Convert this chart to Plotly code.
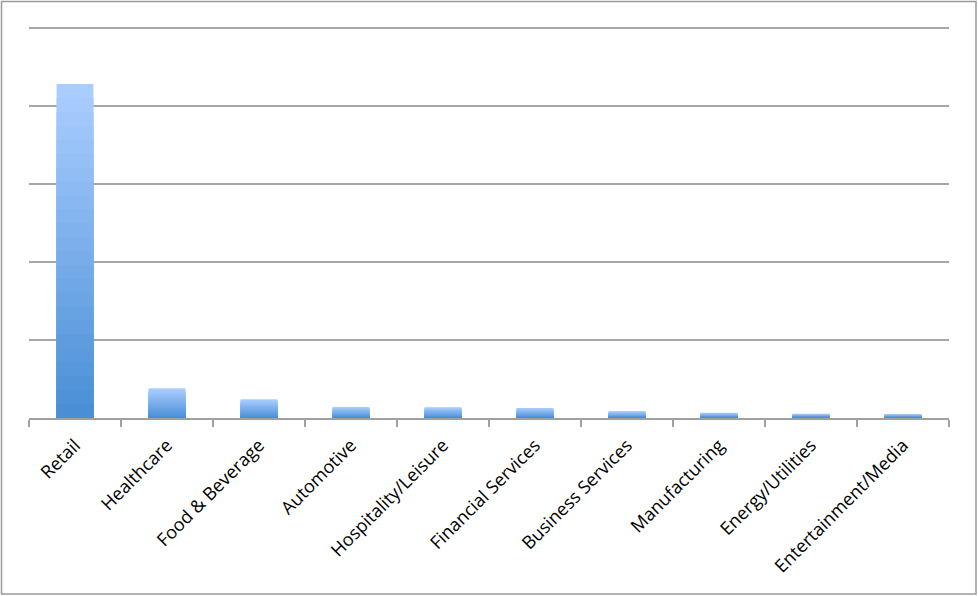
import plotly.graph_objects as go

categories = ["Retail", "Healthcare", "Food & Beverage", "Automotive", "Hospitality/Leisure",
              "Financial Services", "Business Services", "Manufacturing", "Energy/Utilities",
              "Entertainment/Media"]
values = [428, 38, 24, 14, 13.7, 12.8, 8.6, 6.8, 5.5, 5.1]
y_ticks = [0, 100, 200, 300, 400, 500]

light = (170, 205, 255)
dark = (74, 143, 214)
N = 24

fig = go.Figure()
for k in range(N):
    t = k / (N - 1)
    c = tuple(round(light[i] + (dark[i] - light[i]) * t) for i in range(3))
    frac = (N - k) / N
    fig.add_trace(go.Bar(
        x=categories,
        y=[v * frac for v in values],
        marker=dict(color="rgb(%d,%d,%d)" % c, line=dict(width=0)),
        hoverinfo="skip" if k else None,
        showlegend=False,
    ))

fig.update_layout(
    width=978, height=596,
    barmode="overlay",
    bargap=0.6,
    paper_bgcolor="white",
    plot_bgcolor="white",
    margin=dict(l=29, r=29, t=24, b=178),
    font=dict(family="Open Sans, Lato, sans-serif", size=18, color="black"),
    xaxis=dict(
        tickangle=-45,
        ticks="outside", tickson="boundaries", ticklen=7, tickcolor="#a0a0a0", tickwidth=1.5,
        ticklabelstandoff=8,
        showline=True, linecolor="#a0a0a0", linewidth=1.5,
        showgrid=False,
        tickfont=dict(size=18),
    ),
    yaxis=dict(
        range=[0, 505], tickvals=y_ticks, showticklabels=False,
        showgrid=True, gridcolor="#a6a6a6", gridwidth=1.5,
        zeroline=False, showline=False,
    ),
    shapes=[dict(type="rect", xref="paper", yref="paper",
                 x0=(1.5 - 29) / 920, x1=(976 - 29) / 920,
                 y0=(418 - 594) / 394, y1=(418 - 1.5) / 394,
                 line=dict(color="#9a9a9a", width=1.5), fillcolor="rgba(0,0,0,0)")],
)

fig.write_html("out.html", config={"displayModeBar": False},
               post_script="document.body.style.margin='0';document.body.style.overflow='hidden';")
